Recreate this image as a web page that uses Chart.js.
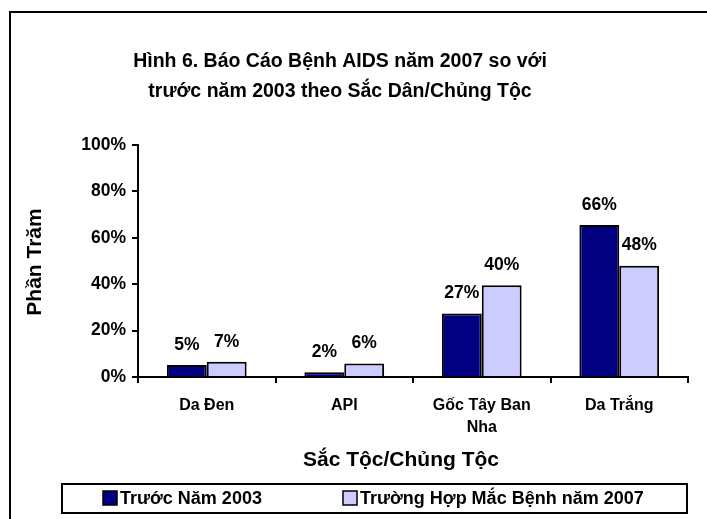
<!DOCTYPE html>
<html>
<head>
<meta charset="utf-8">
<script src="https://cdn.jsdelivr.net/npm/chart.js@4.4.1/dist/chart.umd.min.js"></script>
<style>
  html, body { margin: 0; padding: 0; background: #fff; }
  #wrap { width: 707px; height: 519px; position: relative; }
</style>
</head>
<body>
<div id="wrap"><canvas id="raceChart" width="707" height="519"></canvas></div>
<script>
const categories = ["Da Đen", "API", ["Gốc Tây Ban", "Nha"], "Da Trắng"];
const before2003 = [0.052, 0.02, 0.274, 0.655];
const cases2007 = [0.066, 0.058, 0.396, 0.48];
const seriesNames = ["Trước Năm 2003", "Trường Hợp Mắc Bệnh năm 2007"];
const yTicks = [0, 0.2, 0.4, 0.6, 0.8, 1];
const titleLines = ["Hình 6. Báo Cáo Bệnh AIDS năm 2007 so với", "trước năm 2003 theo Sắc Dân/Chủng Tộc"];
const xTitle = "Sắc Tộc/Chủng Tộc";
const yTitle = "Phần Trăm";

const FONT = "'Liberation Sans', Arial, sans-serif";
const colors = ["#000080", "#CCCCFF"];

// frame, titles, legend and value labels
const decorations = {
  id: "decorations",
  afterDraw(chart) {
    const ctx = chart.ctx;
    ctx.save();

    // outer frame
    ctx.strokeStyle = "#000";
    ctx.lineWidth = 2;
    ctx.strokeRect(10, 12, 720, 530);

    // title
    ctx.fillStyle = "#000";
    ctx.font = "bold 19.5px " + FONT;
    ctx.textAlign = "center";
    ctx.textBaseline = "middle";
    ctx.fillText(titleLines[0], 340, 62);
    ctx.fillText(titleLines[1], 340, 92);

    // axis titles
    ctx.font = "bold 21px " + FONT;
    ctx.fillText(xTitle, 401, 460);
    ctx.save();
    ctx.translate(35, 262);
    ctx.rotate(-Math.PI / 2);
    ctx.fillText(yTitle, 0, 0);
    ctx.restore();

    // value labels
    ctx.font = "bold 17.5px " + FONT;
    chart.data.datasets.forEach((ds, i) => {
      chart.getDatasetMeta(i).data.forEach((bar, j) => {
        const label = Math.round(ds.data[j] * 100) + "%";
        ctx.fillText(label, bar.x, bar.y - 20);
      });
    });

    // legend
    ctx.lineWidth = 2;
    ctx.strokeRect(62, 484, 625, 29);
    ctx.font = "bold 18px " + FONT;
    ctx.textAlign = "left";
    const items = [{ x: 103 }, { x: 343 }];
    items.forEach((it, i) => {
      ctx.fillStyle = colors[i];
      ctx.fillRect(it.x, 491, 14, 14);
      ctx.lineWidth = 1.5;
      ctx.strokeStyle = "#000";
      ctx.strokeRect(it.x, 491, 14, 14);
      ctx.fillStyle = "#000";
      ctx.fillText(seriesNames[i], it.x + 17, 499);
    });

    ctx.restore();
  },
};

const ctx = document.getElementById("raceChart").getContext("2d");
new Chart(ctx, {
  type: "bar",
  data: {
    labels: categories,
    datasets: [
      { label: seriesNames[0], data: before2003, backgroundColor: colors[0], borderColor: "#000", borderWidth: 2, borderSkipped: "bottom" },
      { label: seriesNames[1], data: cases2007, backgroundColor: colors[1], borderColor: "#000", borderWidth: 2, borderSkipped: "bottom" },
    ],
  },
  options: {
    responsive: false,
    animation: false,
    layout: { padding: { left: 0, top: 145, right: 19, bottom: 0 } },
    plugins: { legend: { display: false }, title: { display: false }, tooltip: { enabled: false } },
    datasets: { bar: { categoryPercentage: 0.58, barPercentage: 1 } },
    scales: {
      x: {
        afterFit(scale) { scale.height = 519 - 377; },
        grid: { display: true, drawOnChartArea: false, drawTicks: true, tickLength: 6, tickColor: "#000", lineWidth: 2 },
        border: { display: true, color: "#000", width: 2 },
        ticks: { color: "#000", font: { family: FONT, size: 16, weight: "bold", lineHeight: 1.375 }, padding: 12, maxRotation: 0 },
      },
      y: {
        min: 0,
        max: 1,
        afterFit(scale) { scale.width = 138; },
        afterBuildTicks(scale) { scale.ticks = yTicks.map((v) => ({ value: v })); },
        grid: { display: true, drawOnChartArea: false, drawTicks: true, tickLength: 6, tickColor: "#000", lineWidth: 2 },
        border: { display: true, color: "#000", width: 2 },
        ticks: {
          color: "#000",
          font: { family: FONT, size: 17.5, weight: "bold" },
          padding: 6,
          callback: (v) => Math.round(v * 100) + "%",
        },
      },
    },
  },
  plugins: [decorations],
});
</script>
</body>
</html>
